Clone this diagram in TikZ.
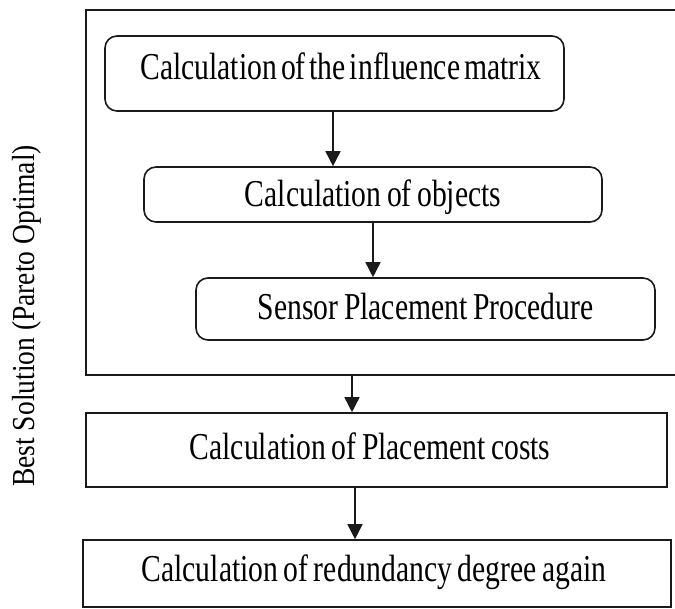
\documentclass[tikz,border=0pt]{standalone}
\usepackage{fontspec}
\setmainfont{Liberation Serif}[FakeStretch=0.78]
\newfontfamily\sidefont{Liberation Serif}[FakeStretch=0.86]
\usetikzlibrary{arrows.meta}
\definecolor{ink}{HTML}{1A1A1A}
\newcommand{\tightspaces}{\spaceskip=5.5pt plus 1pt\relax}
\tikzset{
  outerbox/.style={draw=ink, line width=2pt, rectangle, inner sep=0pt},
  roundbox/.style={draw=ink, line width=1.6pt, rectangle, rounded corners=12pt, inner sep=0pt,
    text height=25pt, text depth=0pt, font=\fontsize{38}{44}\selectfont,
    execute at begin node=\tightspaces},
  plainbox/.style={draw=ink, line width=1.6pt, rectangle, inner sep=0pt,
    text height=25pt, text depth=0pt, font=\fontsize{38}{44}\selectfont,
    execute at begin node=\tightspaces},
  arr/.style={draw=ink, line width=1.6pt, -{Triangle[width=15pt,length=15pt]}},
  sidetext/.style={rotate=90, inner sep=0pt, font=\sidefont\fontsize{32}{36}\selectfont}
}
\begin{document}
\begin{tikzpicture}[x=1pt,y=-1pt]
\useasboundingbox (0,0) rectangle (675,609);
\node[outerbox, minimum width=620pt, minimum height=365pt] (outer) at (396,192.5) {};
\node[roundbox, minimum width=459pt, minimum height=75pt, text depth=13pt] (b1) at (334.5,73.5)
  {\spaceskip=4pt plus 1pt\relax\hspace*{13pt}Calculation of the influence matrix};
\node[roundbox, minimum width=458pt, minimum height=55pt] (b2) at (373,194.5) {Calculation of objects};
\node[roundbox, minimum width=459pt, minimum height=62pt, text depth=3pt] (b3) at (425.5,309) {Sensor Placement Procedure};
\node[plainbox, minimum width=581pt, minimum height=74pt, text depth=6pt] (b4) at (376.5,450) {Calculation of Placement costs\hspace*{13pt}};
\node[plainbox, minimum width=588pt, minimum height=67pt, text depth=10pt] (b5) at (377,573.5) {Calculation of redundancy degree again\hspace*{6pt}};
\node[sidetext] (side) at (27,316) {Best Solution (Pareto Optimal)};
\coordinate (c1) at (333,0);
\coordinate (c3) at (352,0);
\coordinate (c4) at (355,0);
\draw[arr] (c1 |- b1.south) -- (c1 |- b2.north);
\draw[arr] (b2.south) -- (b2.south |- b3.north);
\draw[arr] (c3 |- outer.south) -- (c3 |- b4.north);
\draw[arr] (c4 |- b4.south) -- (c4 |- b5.north);
\end{tikzpicture}
\end{document}
